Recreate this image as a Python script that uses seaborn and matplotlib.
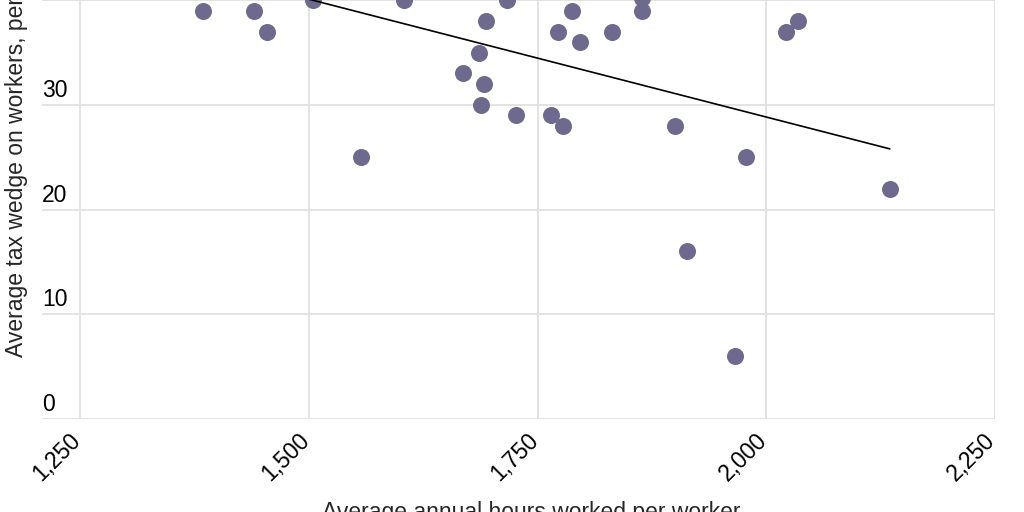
import matplotlib
matplotlib.use("Agg")
import matplotlib.pyplot as plt
import matplotlib.transforms as mtransforms
from matplotlib.ticker import FuncFormatter
import seaborn as sns

# Data (hours worked vs tax wedge)
hours = [1384, 1440, 1454, 1504, 1604, 1557, 1668, 1686, 1691, 1688,
         1694, 1716, 1726, 1764, 1778, 1772, 1787, 1796, 1831, 1864,
         1864, 1900, 1913, 1978, 1966, 2022, 2035, 2135]
tax_wedge = [39, 39, 37, 40, 40, 25, 33, 35, 32, 30,
             38, 40, 29, 29, 28, 37, 39, 36, 37, 39,
             40.2, 28, 16, 25, 6, 37, 38, 22]

# fitted trend line, end points
trend_x = [1384, 2135]
trend_y = [42.7, 25.8]

x_ticks = [1250, 1500, 1750, 2000, 2250]
y_ticks = [0, 10, 20, 30, 40]

sns.set_style("white")
plt.rcParams["font.family"] = ["Liberation Sans", "DejaVu Sans"]

fig = plt.figure(figsize=(10.24, 5.12), dpi=100)
ax = fig.add_axes([42 / 1024, 93 / 512, 953 / 1024, 523.5 / 512])

sns.scatterplot(x=hours, y=tax_wedge, color="#6e6a8e", s=150, linewidth=0,
                alpha=1, ax=ax, zorder=3)
sns.lineplot(x=trend_x, y=trend_y, color="black", linewidth=1.2, ax=ax,
             zorder=4)

ax.set_xlim(1208, 2250)
ax.set_ylim(0, 50)
ax.set_xticks(x_ticks)
ax.set_yticks(y_ticks)
ax.xaxis.set_major_formatter(FuncFormatter(lambda v, p: f"{int(v):,}"))

ax.grid(True, color="#e0e0e0", linewidth=1.3)
ax.set_axisbelow(True)
for s in ax.spines.values():
    s.set_visible(False)

ax.tick_params(axis="both", length=0, labelsize=16.5, colors="black")
ax.tick_params(axis="x", pad=7)
ax.tick_params(axis="y", pad=0)

# x tick labels: rotated, nudged right a little
x_off = mtransforms.ScaledTranslation(5 / 100, 0, fig.dpi_scale_trans)
for lab in ax.get_xticklabels():
    lab.set_rotation(45)
    lab.set_horizontalalignment("right")
    lab.set_verticalalignment("top")
    lab.set_transform(lab.get_transform() + x_off)

# y tick labels sit above their grid line
y_off = mtransforms.ScaledTranslation(0, 3 / 100, fig.dpi_scale_trans)
for lab in ax.get_yticklabels():
    lab.set_horizontalalignment("left")
    lab.set_verticalalignment("bottom")
    lab.set_transform(lab.get_transform() + y_off)

ax.set_xlabel("Average annual hours worked per worker", fontsize=16.5)
ax.set_ylabel("Average tax wedge on workers, percent of labour costs",
              fontsize=16.5, loc="bottom")
ax.xaxis.set_label_coords(0.513, -0.157)
ax.yaxis.set_label_coords(-0.015, 0.118)

fig.savefig("out.png", dpi=100)
